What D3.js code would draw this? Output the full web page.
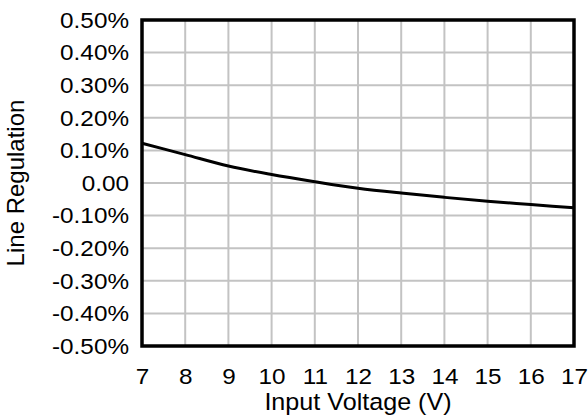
<!DOCTYPE html>
<html>
<head>
<meta charset="utf-8">
<script src="https://cdn.jsdelivr.net/npm/d3@7"></script>
<style>
  html, body { margin: 0; padding: 0; background: #fff; }
  svg { display: block; }
  text { font-family: "Liberation Sans", Arial, Helvetica, sans-serif; fill: #000; }
</style>
</head>
<body>
<svg id="chart" width="588" height="417"></svg>
<script>
// Line regulation vs. input voltage
const inputVoltage = [7, 8, 9, 10, 11, 12, 13, 14, 15, 16, 17];
const lineRegulation = [0.122, 0.087, 0.052, 0.026, 0.004, -0.016, -0.031, -0.044, -0.056, -0.066, -0.076]; // percent
const xTicks = [7, 8, 9, 10, 11, 12, 13, 14, 15, 16, 17];
const yTicks = [0.5, 0.4, 0.3, 0.2, 0.1, 0, -0.1, -0.2, -0.3, -0.4, -0.5];
const yTickLabels = ["0.50%", "0.40%", "0.30%", "0.20%", "0.10%", "0.00", "-0.10%", "-0.20%", "-0.30%", "-0.40%", "-0.50%"];

const svg = d3.select("#chart");
const plotLeft = 142, plotRight = 574, plotTop = 20, plotBottom = 346;

const x = d3.scaleLinear().domain([7, 17]).range([plotLeft, plotRight]);
const y = d3.scaleLinear().domain([-0.5, 0.5]).range([plotBottom, plotTop]);

// grid
const grid = svg.append("g").attr("stroke", "#c3c3c3").attr("stroke-width", 2);
grid.selectAll("line.v").data(xTicks.slice(1, -1)).join("line")
  .attr("class", "v")
  .attr("x1", d => x(d)).attr("x2", d => x(d))
  .attr("y1", plotTop).attr("y2", plotBottom);
grid.selectAll("line.h").data(yTicks.slice(1, -1)).join("line")
  .attr("class", "h")
  .attr("x1", plotLeft).attr("x2", plotRight)
  .attr("y1", d => y(d)).attr("y2", d => y(d));

// curve
const line = d3.line()
  .x((d, i) => x(inputVoltage[i]))
  .y(d => y(d))
  .curve(d3.curveMonotoneX);
svg.append("path")
  .datum(lineRegulation)
  .attr("fill", "none")
  .attr("stroke", "#000")
  .attr("stroke-width", 3)
  .attr("d", line);

// frame
svg.append("rect")
  .attr("x", plotLeft).attr("y", plotTop)
  .attr("width", plotRight - plotLeft).attr("height", plotBottom - plotTop)
  .attr("fill", "none").attr("stroke", "#000").attr("stroke-width", 3.5);

// y tick labels
const yAxis = d3.axisLeft(y).tickValues(yTicks)
  .tickFormat((d, i) => yTickLabels[i]).tickSize(0).tickPadding(0);
const yg = svg.append("g").attr("transform", `translate(${plotLeft - 13},0)`).call(yAxis);
yg.select(".domain").remove();
yg.selectAll(".tick text")
  .attr("x", 0)
  .attr("dy", "0.34em")
  .attr("font-size", 21.5)
  .attr("transform", "scale(1.13,1)")
  .style("font-family", "'Liberation Sans', Arial, sans-serif");

// x tick labels
const xAxis = d3.axisBottom(x).tickValues(xTicks).tickSize(0).tickPadding(0);
const xg = svg.append("g").attr("transform", `translate(0,${plotBottom})`).call(xAxis);
xg.select(".domain").remove();
xg.selectAll(".tick text")
  .attr("y", 38)
  .attr("dy", 0)
  .attr("font-size", 21.5)
  .attr("transform", "scale(1.13,1)")
  .style("font-family", "'Liberation Sans', Arial, sans-serif");

// axis titles
svg.append("text")
  .attr("transform", `translate(${(plotLeft + plotRight) / 2},410) scale(1.07,1)`)
  .attr("text-anchor", "middle")
  .attr("font-size", 23.5)
  .text("Input Voltage (V)");

svg.append("text")
  .attr("transform", `translate(24,${(plotTop + plotBottom) / 2}) rotate(-90)`)
  .attr("text-anchor", "middle")
  .attr("font-size", 24)
  .text("Line Regulation");
</script>
</body>
</html>
